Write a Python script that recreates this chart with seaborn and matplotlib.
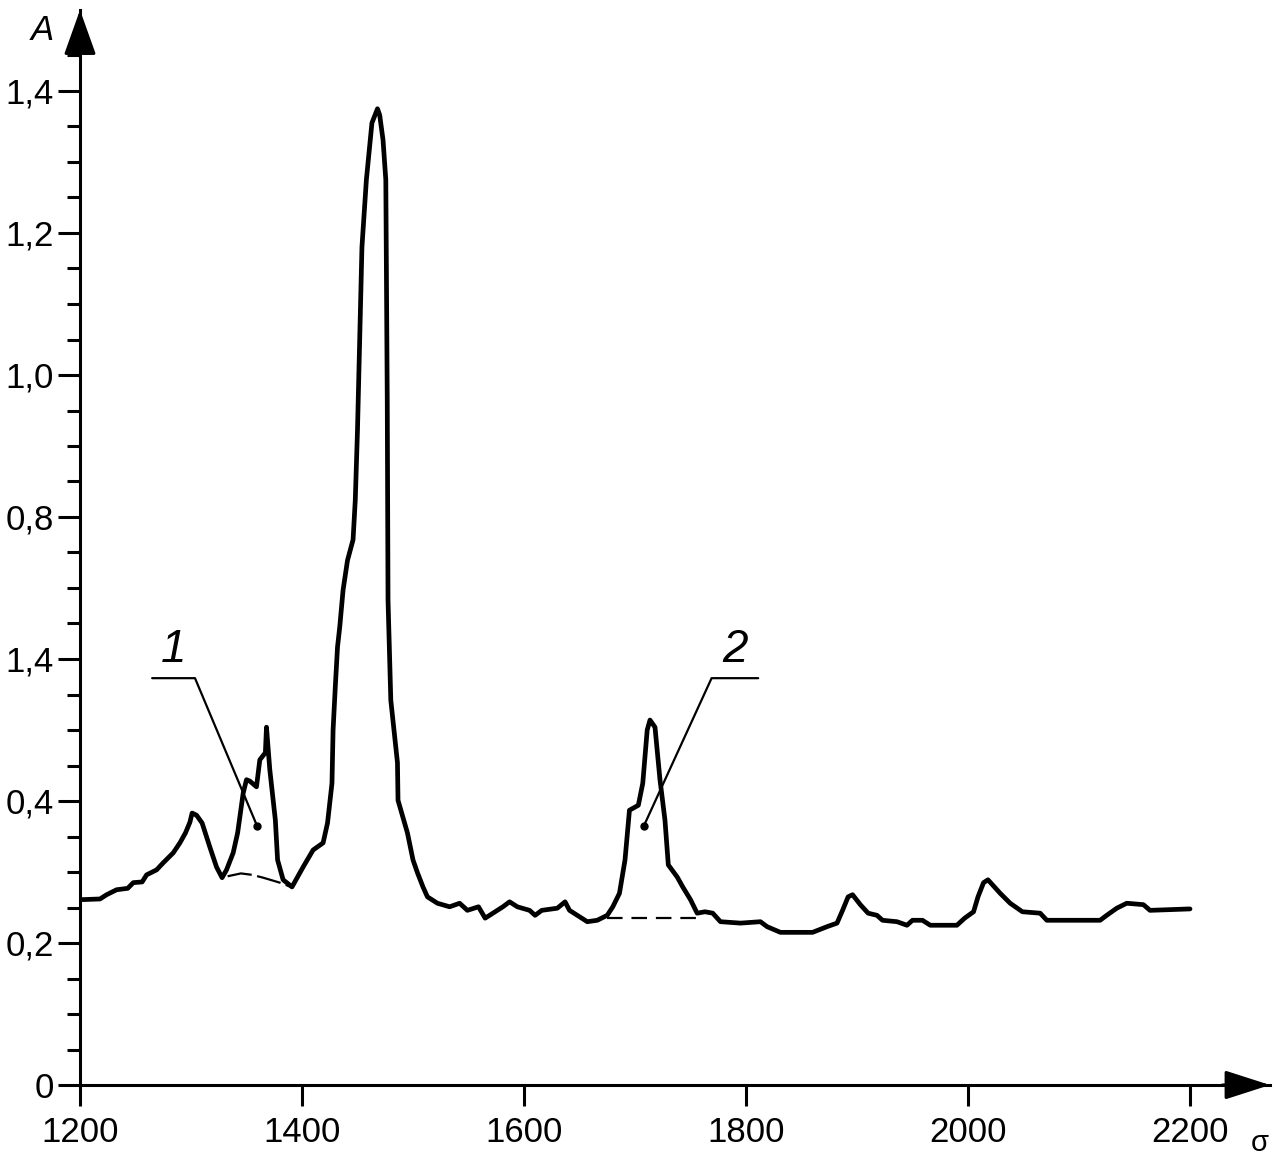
import numpy as np
import pandas as pd
import matplotlib
matplotlib.use("Agg")
import matplotlib.pyplot as plt
import seaborn as sns

# ---- data ----
sigma = [1200, 1218, 1224, 1233, 1243, 1248, 1256, 1260, 1269, 1275, 1284, 1290, 1295, 1299,
         1301, 1305, 1310, 1317, 1323, 1328, 1332, 1338, 1342, 1347, 1350, 1353, 1359, 1362,
         1367, 1368, 1371, 1376, 1378, 1383, 1391, 1401, 1410, 1419, 1423, 1427, 1428, 1430,
         1432, 1434, 1437, 1441, 1446, 1448, 1450, 1454, 1458, 1463, 1468, 1470, 1473, 1475.5,
         1476.2, 1476.8, 1477.5, 1480, 1486, 1486.5, 1495, 1500, 1504, 1509, 1513, 1522, 1533,
         1542, 1549, 1559, 1565, 1572, 1581, 1587, 1594, 1605, 1610, 1616, 1630, 1637, 1641,
         1648, 1657, 1666, 1675, 1680, 1686, 1691, 1695, 1703, 1707, 1711, 1713.5, 1718, 1722.5,
         1727, 1730, 1738, 1743, 1750, 1756, 1763, 1770, 1777, 1795, 1813, 1819, 1831, 1860,
         1873, 1882, 1887, 1892, 1896, 1903, 1910, 1918, 1923, 1936, 1945, 1950, 1959, 1966,
         1990, 1997, 2005, 2009, 2014, 2018, 2029, 2038, 2049, 2065, 2071, 2119, 2125, 2134,
         2143, 2158, 2164, 2200]
absorb = [0.261, 0.262, 0.268, 0.275, 0.277, 0.285, 0.286, 0.296, 0.303, 0.313, 0.327, 0.341,
          0.355, 0.370, 0.383, 0.380, 0.369, 0.335, 0.307, 0.292, 0.303, 0.327, 0.355, 0.411,
          0.430, 0.428, 0.420, 0.458, 0.468, 0.504, 0.444, 0.373, 0.317, 0.289, 0.279, 0.307,
          0.331, 0.341, 0.369, 0.425, 0.500, 0.561, 0.617, 0.645, 0.697, 0.739, 0.768, 0.824,
          0.923, 1.180, 1.275, 1.355, 1.375, 1.366, 1.331, 1.275, 1.106, 0.965, 0.683, 0.542,
          0.454, 0.401, 0.355, 0.317, 0.299, 0.279, 0.265, 0.256, 0.251, 0.256, 0.246, 0.251,
          0.235, 0.242, 0.251, 0.258, 0.251, 0.246, 0.239, 0.246, 0.249, 0.258, 0.246, 0.239,
          0.230, 0.232, 0.239, 0.251, 0.270, 0.317, 0.387, 0.394, 0.425, 0.500, 0.514, 0.504,
          0.430, 0.373, 0.310, 0.293, 0.279, 0.261, 0.242, 0.244, 0.242, 0.230, 0.228, 0.230,
          0.223, 0.215, 0.215, 0.223, 0.228, 0.246, 0.265, 0.268, 0.254, 0.242, 0.239, 0.232,
          0.230, 0.225, 0.232, 0.232, 0.225, 0.225, 0.235, 0.244, 0.265, 0.285, 0.289, 0.270,
          0.256, 0.244, 0.242, 0.232, 0.232, 0.239, 0.249, 0.256, 0.254, 0.246, 0.248]

base1_sigma = [1333, 1345, 1355, 1365, 1380, 1390]
base1_abs = [0.294, 0.298, 0.296, 0.292, 0.285, 0.279]
base2_sigma = [1675, 1756]
base2_abs = [0.235, 0.235]

yticks = [0, 0.2, 0.4, 0.6, 0.8, 1.0, 1.2, 1.4]
ytick_labels = ["0", "0,2", "0,4", "1,4", "0,8", "1,0", "1,2", "1,4"]
xticks = [1200, 1400, 1600, 1800, 2000, 2200]
xtick_labels = ["1200", "1400", "1600", "1800", "2000", "2200"]

# ---- style ----
sns.set_style("ticks")
plt.rcParams["font.family"] = ["Liberation Sans", "DejaVu Sans"]
plt.rcParams["text.color"] = "black"
plt.rcParams["xtick.color"] = "black"
plt.rcParams["ytick.color"] = "black"

W, H = 1276, 1169
fig = plt.figure(figsize=(W / 100, H / 100), dpi=100)
ax_left, ax_bottom = 80, 1085
ax_right, ax_top = 1270, 10
ax = fig.add_axes([ax_left / W, (H - ax_bottom) / H,
                   (ax_right - ax_left) / W, (ax_bottom - ax_top) / H])

df = pd.DataFrame({"sigma": sigma, "A": absorb})
sns.lineplot(data=df, x="sigma", y="A", ax=ax, color="black", linewidth=3.4,
             estimator=None, sort=False)
sns.lineplot(x=base1_sigma, y=base1_abs, ax=ax, color="black", linewidth=1.6,
             estimator=None, sort=False, linestyle=(0, (11, 2.5)))
sns.lineplot(x=base2_sigma, y=base2_abs, ax=ax, color="black", linewidth=1.6,
             estimator=None, sort=False, linestyle=(0, (7, 4)))

xmax = 1200 + (ax_right - ax_left) / 1.11
ymax = (ax_bottom - ax_top) / 710
ax.set_xlim(1200, xmax)
ax.set_ylim(0, ymax)

for s in ["top", "right"]:
    ax.spines[s].set_visible(False)
for s in ["left", "bottom"]:
    ax.spines[s].set_linewidth(2.2)
    ax.spines[s].set_color("black")

ax.set_yticks(yticks)
ax.set_yticklabels(ytick_labels)
ax.set_yticks(np.arange(0.05, 1.5, 0.05), minor=True)
ax.set_xticks(xticks)
ax.set_xticklabels(xtick_labels)
ax.tick_params(axis="y", which="major", direction="out", length=16, width=2.2, left=True,
               labelsize=25, pad=3, color="black", labelcolor="black")
ax.tick_params(axis="y", which="minor", direction="out", length=9.5, width=2.2, left=True,
               color="black")
ax.tick_params(axis="x", which="major", direction="out", length=15, width=2.2, bottom=True,
               labelsize=25, pad=7, color="black", labelcolor="black")
ax.tick_params(axis="x", which="minor", bottom=False)
ax.set_xlabel("")
ax.set_ylabel("")

# arrow heads
ax.annotate("", xy=(0, 1.0), xycoords="axes fraction", xytext=(0, 0.96),
            textcoords="axes fraction",
            arrowprops=dict(arrowstyle="-|>,head_length=1.4,head_width=0.5",
                            color="black", lw=2.2, mutation_scale=20, shrinkA=0, shrinkB=0))
ax.annotate("", xy=(1.0, 0), xycoords="axes fraction", xytext=(0.96, 0),
            textcoords="axes fraction",
            arrowprops=dict(arrowstyle="-|>,head_length=1.4,head_width=0.45",
                            color="black", lw=2.2, mutation_scale=20, shrinkA=0, shrinkB=0))

# axis names
fig.text(42 / W, 1 - 30 / H, "A", fontsize=25, style="italic", ha="center", va="center")
fig.text(1260 / W, 1 - 1143 / H, "σ", fontsize=21, ha="center", va="center")

# curve labels with leader lines
ax.plot([1265, 1303.6, 1359.5], [0.573, 0.573, 0.365], color="black", lw=1.6)
ax.plot([1359.5], [0.365], "o", color="black", ms=5)
ax.text(1284, 0.582, "1", fontsize=33, style="italic", ha="center", va="bottom")
ax.plot([1708, 1769, 1811], [0.365, 0.573, 0.573], color="black", lw=1.6)
ax.plot([1708], [0.365], "o", color="black", ms=5)
ax.text(1790, 0.582, "2", fontsize=33, style="italic", ha="center", va="bottom")

fig.savefig("out.png", dpi=100, facecolor="white")
